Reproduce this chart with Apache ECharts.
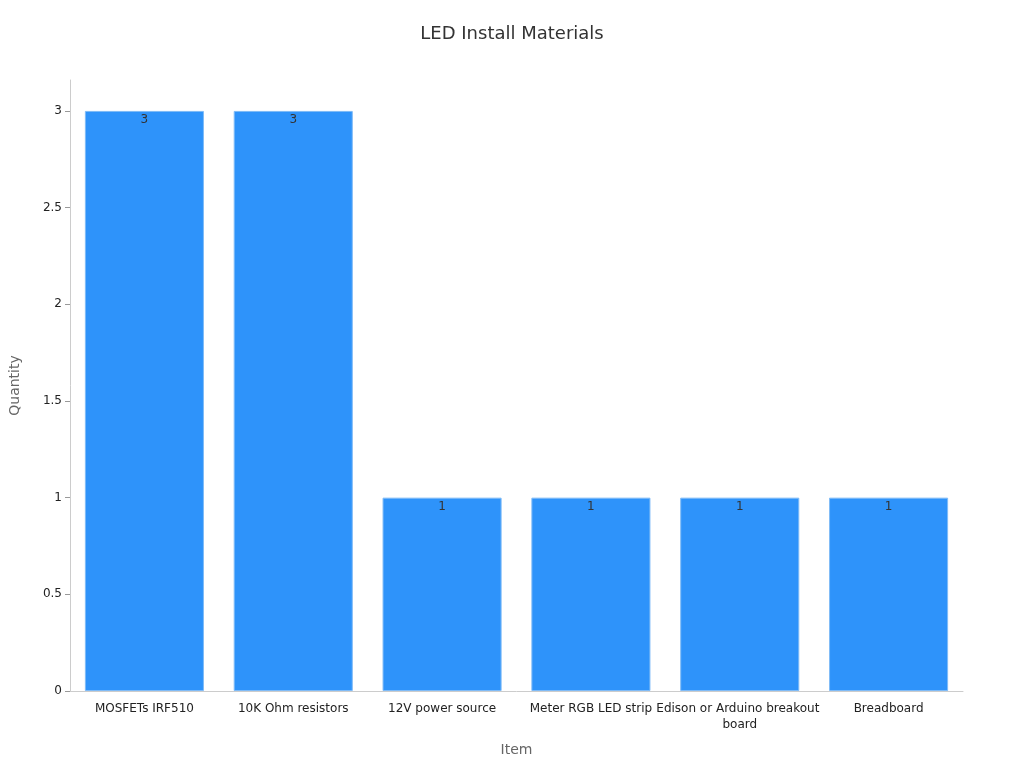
<!DOCTYPE html>
<html><head><meta charset="utf-8">
<script src="https://cdn.jsdelivr.net/npm/echarts@6/dist/echarts.min.js"></script>
<style>html,body{margin:0;padding:0}#c{width:1024px;height:768px}</style>
</head><body><div id="c"></div>
<script>
const categories = ["MOSFETs IRF510","10K Ohm resistors","12V power source","Meter RGB LED strip","Edison or Arduino breakout board","Breadboard"];
const quantities = [3,3,1,1,1,1];
const chart = echarts.init(document.getElementById('c'));
chart.setOption({
  textStyle:{fontFamily:'DejaVu Sans'},
  title:{text:'LED Install Materials',left:'center',top:20,textStyle:{fontSize:18,fontWeight:'normal',color:'#333',fontFamily:'DejaVu Sans'}},
  grid:{left:64,right:61,top:80,bottom:77,containLabel:false},
  xAxis:{type:'category',data:categories,name:'Item',nameLocation:'middle',nameGap:52,
    nameTextStyle:{fontSize:14,color:'#666'},
    axisLine:{lineStyle:{color:'#ccc'}},axisTick:{show:false},
    axisLabel:{interval:0,color:'#222',fontSize:12,width:175,lineHeight:16,overflow:'break',margin:10}},
  yAxis:{type:'value',min:0,max:3.16,interval:0.5,name:'Quantity',nameLocation:'middle',nameGap:48,
    nameTextStyle:{fontSize:14,color:'#666'},
    axisLine:{show:true,lineStyle:{color:'#ccc'}},axisTick:{show:true,lineStyle:{color:'#999'}},
    splitLine:{show:false},
    axisLabel:{color:'#222',fontSize:12,showMaxLabel:false,formatter:v=>(Math.abs(v*2-Math.round(v*2))<1e-6?String(v):'')}},
  series:[{type:'bar',data:quantities,barCategoryGap:'20%',
    itemStyle:{color:'#2e93fa',borderColor:'#7fbbf7',borderWidth:1},
    label:{show:true,position:'insideTop',color:'#333',fontSize:12,offset:[0,-2]}}]
});
</script></body></html>
